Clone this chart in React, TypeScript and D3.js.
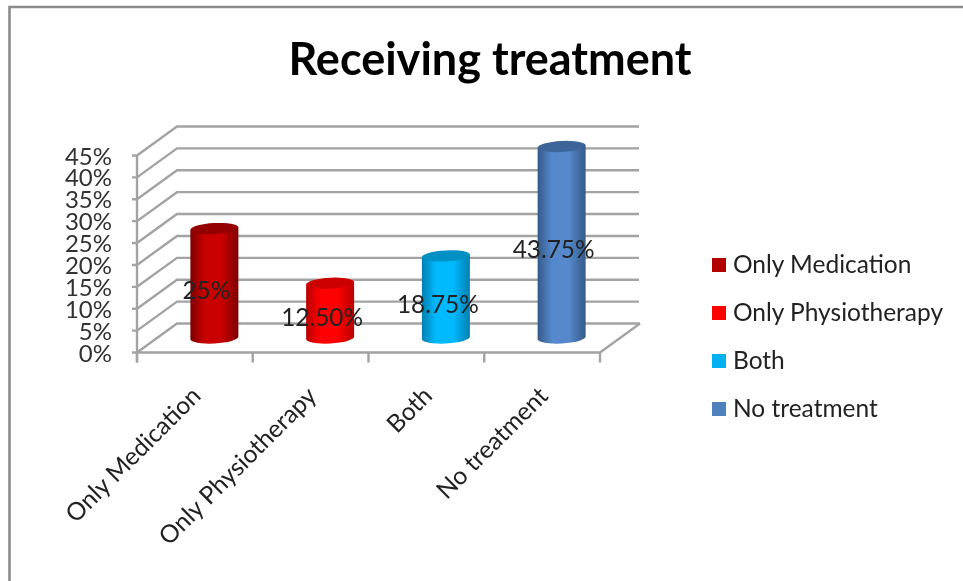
import React from "react";
import * as d3 from "d3";

const title = "Receiving treatment";
const categories = ["Only Medication", "Only Physiotherapy", "Both", "No treatment"];
const values = [25, 12.5, 18.75, 43.75];
const valueLabels = ["25%", "12.50%", "18.75%", "43.75%"];
const yTicks = [0, 5, 10, 15, 20, 25, 30, 35, 40, 45];
const swatchColors = ["#b00000", "#ff0000", "#00b0f0", "#4f81bd"];
const darkColors = ["#7d0000", "#b80000", "#007fb0", "#345a88"];
const midColors = ["#c80000", "#ff0000", "#00baff", "#5589cc"];
const topColors = ["#940000", "#cc0000", "#0090c4", "#3d659a"];

const FONT = "Lato, Carlito, sans-serif";
const GRID = "#a3a3a3";
const left = 137, right = 600, floorY = 352.5, topY = 155.5;
const depthX = 40, depthY = -29;
const barHalf = 24;

export default function App() {
  const x = d3.scaleBand<string>().domain(categories).range([left, right]);
  const y = d3.scaleLinear().domain([0, 45]).range([floorY, topY]);
  const cx = (c: string) => x(c)! + x.bandwidth() / 2 + depthX / 2 - 0.5;
  const ellipseRy = 5.5;
  const tickXs = [...categories.map((c) => x(c)!), right];
  return (
    <svg width={963} height={581} style={{ position: "absolute", left: 0, top: 0, background: "#fff" }} fontFamily={FONT}>
      <defs>
        <filter id="soft" x="-2%" y="-2%" width="104%" height="104%">
          <feGaussianBlur stdDeviation="0.5" />
        </filter>
        {categories.map((c, i) => (
          <linearGradient key={c} id={`cyl${i}`} x1="0" x2="1" y1="0" y2="0">
            <stop offset="0" stopColor={darkColors[i]} />
            <stop offset="0.3" stopColor={midColors[i]} />
            <stop offset="0.65" stopColor={midColors[i]} />
            <stop offset="1" stopColor={darkColors[i]} />
          </linearGradient>
        ))}
      </defs>
      <g filter="url(#soft)">
        {/* frame */}
        <path d="M9.5 590V7H975" fill="none" stroke="#8c8c8c" strokeWidth={2.6} />

        <text x={490} y={75} textAnchor="middle" fontSize={45} fontWeight={700} fill="#000">{title}</text>

        {/* walls and gridlines */}
        {yTicks.map((t) => (
          <path key={t} d={`M${left - 5} ${y(t)}H${left}L${left + depthX} ${y(t) + depthY}H${right + depthX - (t === 0 ? 0 : 1)}`} fill="none" stroke={GRID} strokeWidth={2.4} />
        ))}
        <path d={`M${left} ${topY}V${floorY + 10}`} stroke={GRID} strokeWidth={2.4} fill="none" />
        <path d={`M${left} ${floorY}H${right}L${right + depthX} ${floorY + depthY}`} stroke={GRID} strokeWidth={2.4} fill="none" />
        {tickXs.map((t) => (
          <line key={t} x1={t} x2={t} y1={floorY} y2={floorY + 10} stroke={GRID} strokeWidth={2.4} />
        ))}

        {/* y tick labels */}
        {yTicks.map((t) => (
          <text key={t} x={112} y={y(t) + 3} dominantBaseline="middle" textAnchor="end" fontSize={24} fill="#333">{`${t}%`}</text>
        ))}

        {/* cylinders */}
        {categories.map((c, i) => {
          const xc = cx(c);
          const yb = y(0) + depthY / 2;
          const yt = y(values[i]) + depthY / 2;
          const tilt = -3.2;
          const dy = barHalf * Math.tan((tilt * Math.PI) / 180);
          return (
            <g key={c}>
              <path
                d={`M${xc - barHalf} ${yt - dy}L${xc + barHalf} ${yt + dy}V${yb + dy}A${barHalf} ${ellipseRy} ${tilt} 0 1 ${xc - barHalf} ${yb - dy}Z`}
                fill={`url(#cyl${i})`}
              />
              <ellipse cx={xc} cy={yt} rx={barHalf} ry={ellipseRy} fill={topColors[i]} transform={`rotate(${tilt} ${xc} ${yt})`} />
            </g>
          );
        })}

        {/* data labels */}
        {categories.map((c, i) => (
          <text key={c} x={cx(c) - 8} y={y(values[i] / 2) + depthY / 2 + 9.5} dominantBaseline="middle" textAnchor="middle" fontSize={24.4} fill="#222">{valueLabels[i]}</text>
        ))}

        {/* category labels */}
        {categories.map((c) => {
          const px = x(c)! + x.bandwidth() / 2 + 3;
          const py = 393;
          return (
            <text key={c} transform={`translate(${px} ${py}) rotate(-45)`} textAnchor="end" dominantBaseline="middle" fontSize={24.6} fill="#222">{c}</text>
          );
        })}

        {/* legend */}
        {categories.map((c, i) => {
          const ly = 265 + i * 48;
          return (
            <g key={c}>
              <rect x={712} y={ly - 7} width={14} height={14} fill={swatchColors[i]} />
              <text x={733} y={ly + 2} dominantBaseline="middle" fontSize={24.5} fill="#222">{c}</text>
            </g>
          );
        })}
      </g>
    </svg>
  );
}
